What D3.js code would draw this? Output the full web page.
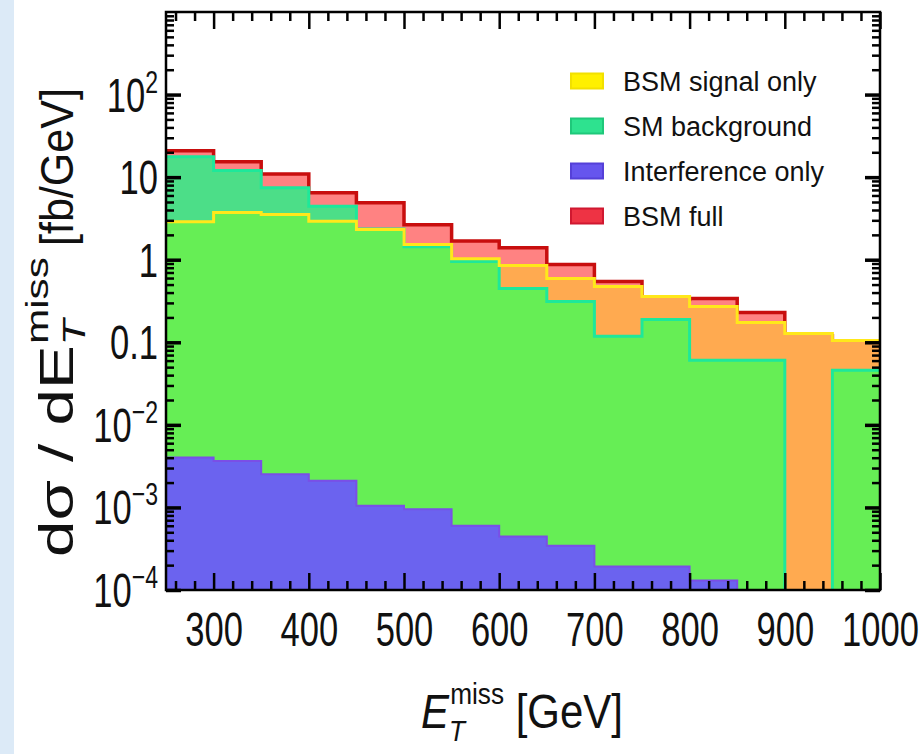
<!DOCTYPE html>
<html>
<head>
<meta charset="utf-8">
<script src="https://cdn.jsdelivr.net/npm/d3@7"></script>
<style>
  body { margin: 0; background: #fff; }
  svg { display: block; font-family: "Liberation Sans", Arial, sans-serif; }
</style>
</head>
<body>
<div id="chart"></div>
<script>
// histogram bins, 50 GeV wide
var binEdges = [250, 300, 350, 400, 450, 500, 550, 600, 650, 700, 750, 800, 850, 900, 950, 1000];

// values (fb/GeV), 0 = off scale
var bsmFull      = [20.9, 15.4, 10.9, 6.49, 4.91, 2.66, 1.68, 1.40, 0.873, 0.545, 0.33, 0.339, 0.230, 0.12, 0.095];
var bsmSignal    = [2.89, 3.72, 3.52, 2.92, 2.32, 1.53, 1.03, 0.849, 0.591, 0.473, 0.359, 0.272, 0.174, 0.128, 0.105];
var smBackground = [17.7, 12.0, 7.45, 4.45, 2.35, 1.44, 0.951, 0.448, 0.312, 0.118, 0.189, 0.0604, 0.0604, 0, 0.0457];
var interference = [0.00402, 0.00366, 0.00253, 0.0021, 0.00105, 0.00095, 0.0006, 0.000446, 0.000344, 0.000193, 0.000193, 0.00013, 0, 0, 0];

var xMajor = [300, 400, 500, 600, 700, 800, 900, 1000];
var xMinor = d3.range(260, 1000, 20).filter(function(d) { return d % 100 !== 0; });
var yMajor = [1e-4, 1e-3, 1e-2, 0.1, 1, 10, 100];
var yTickBase = ["10", "10", "10", "0.1", "1", "10", "10"];
var yTickSup  = ["\u22124", "\u22123", "\u22122", "", "", "", "2"];
var yMinor = [];
[1e-4, 1e-3, 1e-2, 0.1, 1, 10, 100].forEach(function(dec) {
  for (var k = 2; k <= 9; k++) yMinor.push(dec * k);
});

var legendLabels = ["BSM signal only", "SM background", "Interference only", "BSM full"];
var legendFill   = ["#FFF000", "#2EE28F", "#6655EE", "#EE3344"];
var legendEdge   = ["#F2E000", "#1FC87A", "#5540D8", "#D01830"];

var fontStack = "'Liberation Sans', Arial, sans-serif";

var svgWidth = 921;
var svgHeight = 754;
var plot = { left: 166, right: 880, top: 12, bottom: 590 };

var svg = d3.select("#chart").append("svg")
  .attr("width", svgWidth)
  .attr("height", svgHeight);

svg.append("rect").attr("width", svgWidth).attr("height", svgHeight).attr("fill", "#fff");
svg.append("rect").attr("width", 14).attr("height", svgHeight).attr("fill", "#DCEAF7");

var x = d3.scaleLinear().domain([250, 1000]).range([plot.left, plot.right]);
var y = d3.scaleLog().domain([1e-4, 1e3]).range([plot.bottom, plot.top]).clamp(true);

function yv(v) { return v > 0 ? y(v) : plot.bottom + 6; }

function stepData(vals) {
  var d = vals.map(function(v, i) { return { e: binEdges[i], v: v }; });
  d.push({ e: binEdges[binEdges.length - 1], v: vals[vals.length - 1] });
  return d;
}

var area = d3.area()
  .curve(d3.curveStepAfter)
  .x(function(d) { return x(d.e); })
  .y0(plot.bottom + 6)
  .y1(function(d) { return yv(d.v); });

var line = d3.line()
  .curve(d3.curveStepAfter)
  .x(function(d) { return x(d.e); })
  .y(function(d) { return yv(d.v); });

var defs = svg.append("defs");
defs.append("clipPath").attr("id", "plotClip")
  .append("rect")
  .attr("x", plot.left).attr("y", plot.top)
  .attr("width", plot.right - plot.left).attr("height", plot.bottom - plot.top);
defs.append("clipPath").attr("id", "bgClip")
  .append("path").attr("d", area(stepData(smBackground)));

var chartGroup = svg.append("g").attr("clip-path", "url(#plotClip)");

// BSM full
chartGroup.append("path").attr("d", area(stepData(bsmFull))).attr("fill", "#FF8282");
chartGroup.append("path").attr("d", line(stepData(bsmFull)))
  .attr("fill", "none").attr("stroke", "#C80E0E").attr("stroke-width", 3.5);

// SM background, then signal on top, overlap shown green
chartGroup.append("path").attr("d", area(stepData(smBackground))).attr("fill", "#4CDE88");
chartGroup.append("path").attr("d", area(stepData(bsmSignal))).attr("fill", "#FFAA50");
chartGroup.append("path").attr("d", area(stepData(bsmSignal)))
  .attr("fill", "#66EE55").attr("clip-path", "url(#bgClip)");

// interference
chartGroup.append("path").attr("d", area(stepData(interference))).attr("fill", "#6B63EF");

chartGroup.append("path").attr("d", line(stepData(smBackground)))
  .attr("fill", "none").attr("stroke", "#1EE89A").attr("stroke-width", 3);
chartGroup.append("path").attr("d", line(stepData(bsmSignal)))
  .attr("fill", "none").attr("stroke", "#FFE81A").attr("stroke-width", 3);
chartGroup.append("path").attr("d", line(stepData(interference)))
  .attr("fill", "none").attr("stroke", "#7A4FE6").attr("stroke-width", 2);

// ticks on all four sides, pointing inward
function tickStyle(g, w) {
  g.select(".domain").remove();
  g.selectAll(".tick line").attr("stroke", "#000").attr("stroke-width", w);
}

svg.append("g")
  .attr("transform", `translate(0, ${plot.bottom})`)
  .call(d3.axisBottom(x).tickValues(xMinor).tickSizeInner(-9).tickSizeOuter(0).tickFormat(""))
  .call(function(g) { tickStyle(g, 2.5); });

var xAxis = svg.append("g")
  .attr("transform", `translate(0, ${plot.bottom})`)
  .call(d3.axisBottom(x).tickValues(xMajor).tickSizeInner(-17).tickSizeOuter(0).tickFormat(d3.format("d")))
  .attr("font-size", 48)
  .attr("font-family", fontStack)
  .call(function(g) { tickStyle(g, 2.5); });

xAxis.selectAll(".tick text")
  .attr("y", 0).attr("dy", 0)
  .attr("fill", "#111")
  .attr("transform", "translate(0, 56) scale(0.72, 1)");

svg.append("g")
  .attr("transform", `translate(0, ${plot.top})`)
  .call(d3.axisTop(x).tickValues(xMinor).tickSizeInner(-9).tickSizeOuter(0).tickFormat(""))
  .call(function(g) { tickStyle(g, 2.5); });
svg.append("g")
  .attr("transform", `translate(0, ${plot.top})`)
  .call(d3.axisTop(x).tickValues(xMajor).tickSizeInner(-17).tickSizeOuter(0).tickFormat(""))
  .call(function(g) { tickStyle(g, 2.5); });

svg.append("g")
  .attr("transform", `translate(${plot.left}, 0)`)
  .call(d3.axisLeft(y).tickValues(yMinor).tickSizeInner(-8).tickSizeOuter(0).tickFormat(""))
  .call(function(g) { tickStyle(g, 2.5); });
svg.append("g")
  .attr("transform", `translate(${plot.left}, 0)`)
  .call(d3.axisLeft(y).tickValues(yMajor).tickSizeInner(-15).tickSizeOuter(0).tickFormat(""))
  .call(function(g) { tickStyle(g, 3.5); });

svg.append("g")
  .attr("transform", `translate(${plot.right}, 0)`)
  .call(d3.axisRight(y).tickValues(yMinor).tickSizeInner(-8).tickSizeOuter(0).tickFormat(""))
  .call(function(g) { tickStyle(g, 2.5); });
svg.append("g")
  .attr("transform", `translate(${plot.right}, 0)`)
  .call(d3.axisRight(y).tickValues(yMajor).tickSizeInner(-15).tickSizeOuter(0).tickFormat(""))
  .call(function(g) { tickStyle(g, 3.5); });

// y tick labels with superscripts
var yLabels = svg.append("g")
  .selectAll("text")
  .data(yMajor)
  .enter()
  .append("text")
  .attr("transform", function(d) { return `translate(158, ${y(d) + 17}) scale(0.72, 1)`; })
  .attr("text-anchor", "end")
  .attr("font-size", 48)
  .attr("fill", "#111");

yLabels.append("tspan").text(function(d, i) { return yTickBase[i]; });
yLabels.append("tspan")
  .attr("font-size", 32)
  .attr("dy", -19)
  .text(function(d, i) { return yTickSup[i]; });

// frame
svg.append("rect")
  .attr("x", plot.left).attr("y", plot.top)
  .attr("width", plot.right - plot.left).attr("height", plot.bottom - plot.top)
  .attr("fill", "none").attr("stroke", "#000").attr("stroke-width", 2.5);

// legend
var legend = svg.append("g")
  .selectAll("g")
  .data(legendLabels)
  .enter()
  .append("g")
  .attr("transform", function(d, i) { return `translate(570, ${81 + i * 45})`; });

legend.append("rect")
  .attr("x", 1).attr("y", -7.5)
  .attr("width", 32).attr("height", 15)
  .attr("fill", function(d, i) { return legendFill[i]; })
  .attr("stroke", function(d, i) { return legendEdge[i]; })
  .attr("stroke-width", 2);

legend.append("text")
  .attr("x", 53).attr("y", 10)
  .attr("font-size", 27)
  .attr("fill", "#111")
  .text(function(d) { return d; });

// x title
var xTitle = svg.append("g");
var xText = xTitle.append("text").attr("font-size", 48).attr("fill", "#111");
xText.append("tspan").attr("font-style", "italic").text("E");
xText.append("tspan").attr("font-style", "italic").attr("font-size", 30).attr("dy", 13).text("T");
xText.append("tspan").attr("font-size", 30).attr("dx", -17).attr("dy", -37).text("miss");
xText.append("tspan").attr("dy", 24).text("\u00a0[GeV]");
var xw = xText.node().getBBox().width;
xTitle.attr("transform", `translate(421, 728) scale(${202 / xw}, 1)`);

// y title, in two pieces so each can be fitted to its length
var yTitleA = svg.append("g");
var yTextA = yTitleA.append("text").attr("font-size", 48).attr("fill", "#111");
yTextA.append("tspan").text("d\u03c3 / dE");
yTextA.append("tspan").attr("font-style", "italic").attr("font-size", 31).attr("dy", 12).text("T");
yTextA.append("tspan").attr("font-size", 31).attr("dx", -18).attr("dy", -37).text("miss");
var ywA = yTextA.node().getBBox().width;
yTitleA.attr("transform", `translate(73, 557) rotate(-90) scale(${300 / ywA}, 1)`);

var yTitleB = svg.append("g");
var yTextB = yTitleB.append("text").attr("font-size", 46).attr("fill", "#111").text("[fb/GeV]");
var ywB = yTextB.node().getBBox().width;
yTitleB.attr("transform", `translate(73, 246) rotate(-90) scale(${158 / ywB}, 1)`);
</script>
</body>
</html>
